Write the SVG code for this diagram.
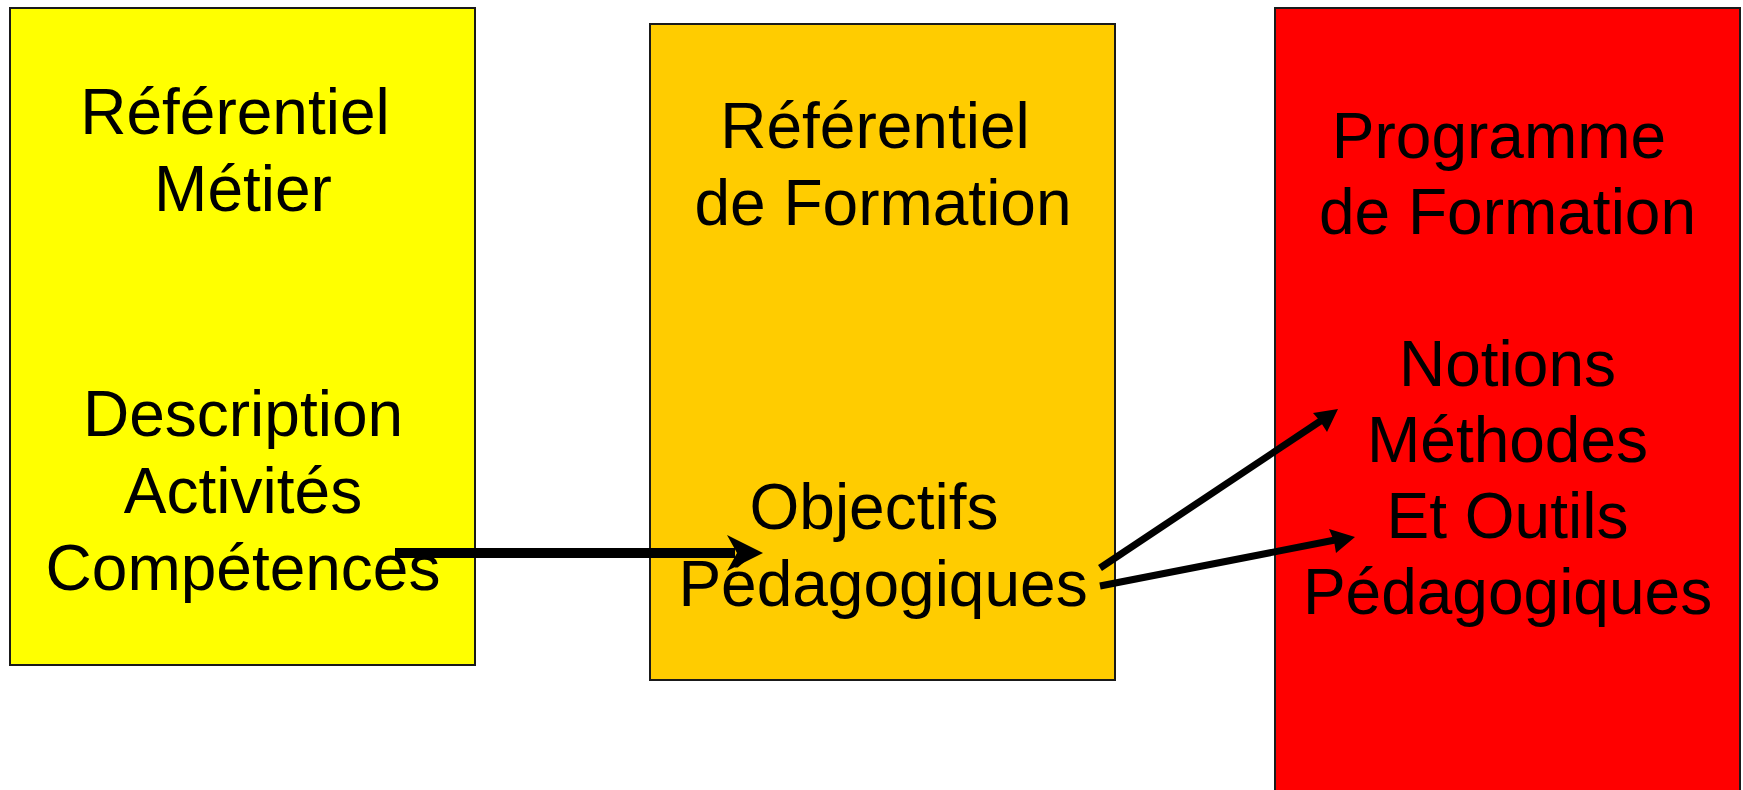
<svg xmlns="http://www.w3.org/2000/svg" width="1743" height="790" viewBox="0 0 1743 790">
<style>
.box{stroke:#1a1a1a;stroke-width:2}
.t{font-family:"Liberation Sans",Arial,sans-serif;font-size:64px;fill:#000;text-anchor:middle}
.ln{stroke:#000;fill:none}
</style>
<rect width="1743" height="790" fill="#fff"/>
<g id="node-referentiel-metier">
<rect class="box" x="10" y="8" width="465" height="657" fill="#FFFF00"/>
<text class="t"><tspan x="235" y="134">Référentiel</tspan><tspan x="243" y="211">Métier</tspan><tspan x="243" y="436">Description</tspan><tspan x="243" y="513">Activités</tspan><tspan x="243" y="590">Compétences</tspan></text>
</g>
<g id="node-referentiel-formation">
<rect class="box" x="650" y="24" width="465" height="656" fill="#FFCC00"/>
<text class="t"><tspan x="875" y="148">Référentiel</tspan><tspan x="883" y="225">de Formation</tspan><tspan x="874" y="529">Objectifs</tspan><tspan x="883" y="606">Pédagogiques</tspan></text>
</g>
<g id="node-programme-formation">
<rect class="box" x="1275" y="8" width="465" height="800" fill="#FF0000"/>
<text class="t"><tspan x="1499" y="158">Programme</tspan><tspan x="1507.5" y="234">de Formation</tspan><tspan x="1507.5" y="386">Notions</tspan><tspan x="1507.5" y="462">Méthodes</tspan><tspan x="1507.5" y="538">Et Outils</tspan><tspan x="1507.5" y="614">Pédagogiques</tspan></text>
</g>
<g id="connectors">
<line class="ln" x1="395" y1="553" x2="735" y2="553" stroke-width="10"/>
<polygon points="763,553 727,535 737,553 727,571" fill="#000"/>
<line class="ln" x1="1100" y1="568" x2="1322" y2="420" stroke-width="7"/>
<polygon points="1338,409 1313,413 1320,421 1327,432" fill="#000"/>
<line class="ln" x1="1100" y1="586" x2="1335" y2="540" stroke-width="7"/>
<polygon points="1355,537 1329,529 1334,541 1336,553" fill="#000"/>
</g>
</svg>
